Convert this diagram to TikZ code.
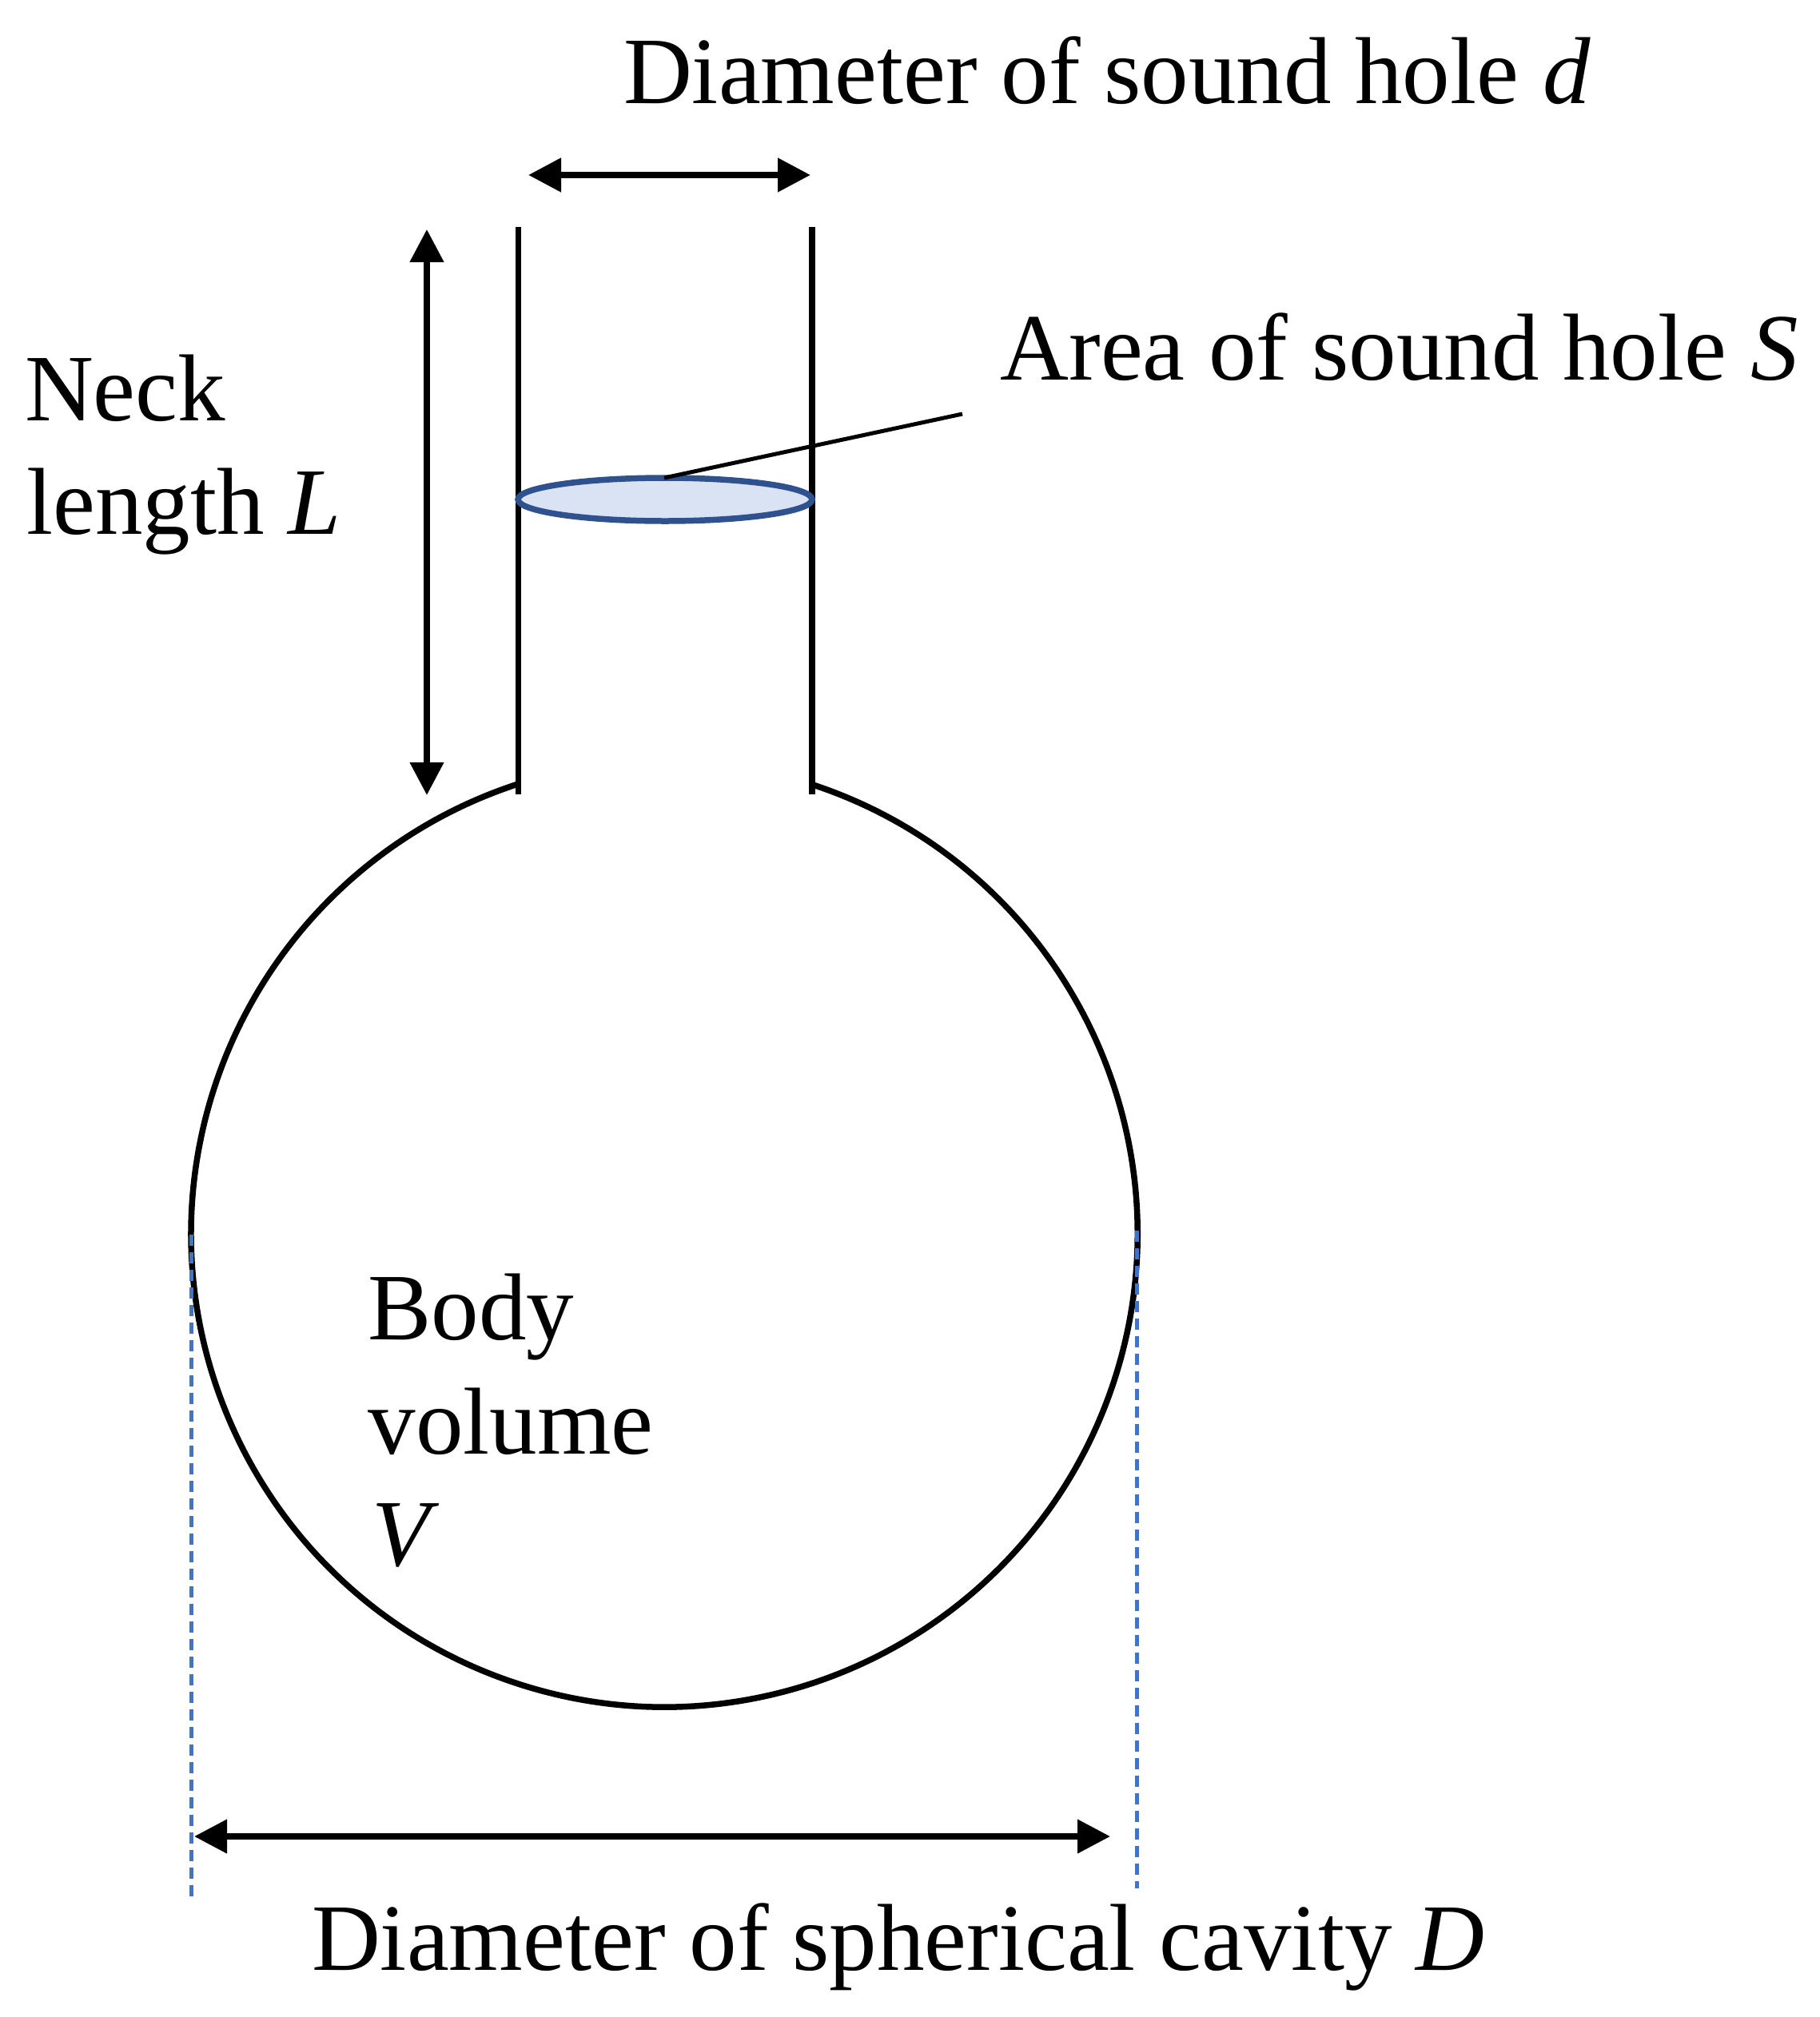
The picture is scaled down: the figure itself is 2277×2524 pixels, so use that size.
\documentclass[tikz,border=0pt]{standalone}
\usepackage{fontspec}
\setmainfont{Liberation Serif}
\usetikzlibrary{arrows.meta}
\definecolor{holefill}{HTML}{DAE3F3}
\definecolor{holeline}{HTML}{2F528F}
\definecolor{dashblue}{HTML}{4472C4}
\tikzset{
  px/.style={x=1pt,y=-1pt},
  wall/.style={line width=7.5pt,black},
  cavity/.style={line width=7.5pt,black},
  wideheads/.style={line width=8pt,{Triangle[length=41pt,width=41pt]}-{Triangle[length=41pt,width=41pt]}},
  guide/.style={line width=5pt,dashblue,dash pattern=on 14pt off 8pt},
  leader/.style={line width=5pt,black},
  label/.style={anchor=base west,inner sep=0pt,outer sep=0pt,font=\fontsize{119}{119}\selectfont},
}
\begin{document}
\begin{tikzpicture}[px]
\useasboundingbox (0,0) rectangle (2277,2524);
% cavity
\coordinate (centre) at (831,1544);
\draw[cavity] (1017,982) arc[start angle=-71.7,end angle=251.9,radius=592];
% neck
\coordinate (neckLtop) at (648.5,284);
\coordinate (neckLbot) at (648.5,994);
\coordinate (neckRtop) at (1016,284);
\coordinate (neckRbot) at (1016,994);
\draw[wall] (neckLtop) -- (neckLbot);
\draw[wall] (neckRtop) -- (neckRbot);
% sound hole
\filldraw[draw=holeline,fill=holefill,line width=7.5pt] (832,625) ellipse [x radius=184,y radius=27];
% leader
\coordinate (leaderA) at (831,598);
\coordinate (leaderB) at (1204,518);
\draw[leader] (leaderA) -- (leaderB);
% dimension arrows
\coordinate (dL) at (661,219);
\coordinate (dR) at (1014,219);
\draw[wideheads] (dL) -- (dR);
\coordinate (LT) at (534,287);
\coordinate (LB) at (534,995);
\draw[wideheads,line width=7.5pt] (LT) -- (LB);
\coordinate (DL) at (243,2298);
\coordinate (DR) at (1389,2298);
\draw[wideheads,line width=7.5pt] (DL) -- (DR);
% guides
\coordinate (gLt) at (239,1545);
\coordinate (gLb) at (239,2375);
\coordinate (gRt) at (1422,1540);
\coordinate (gRb) at (1422,2363);
\draw[guide] (gLt) -- (gLb);
\draw[guide] (gRt) -- (gRb);
% labels
\node[label] (tsmall) at (780,129) {Diameter of sound hole \textit{d}};
\node[label] (tarea) at (1251.5,475) {Area of sound hole \textit{S}};
\node[label] (tneck) at (31,526) {Neck};
\node[label] (tlen) at (33.5,668) {length \textit{L}};
\node[label] (tbody) at (460.5,1676) {Body};
\node[label] (tvol) at (460.5,1819) {volume};
\node[label] (tv) at (465,1959) {\textit{V}};
\node[label] (tcav) at (390,2465) {Diameter of spherical cavity \textit{D}};
\end{tikzpicture}
\end{document}
